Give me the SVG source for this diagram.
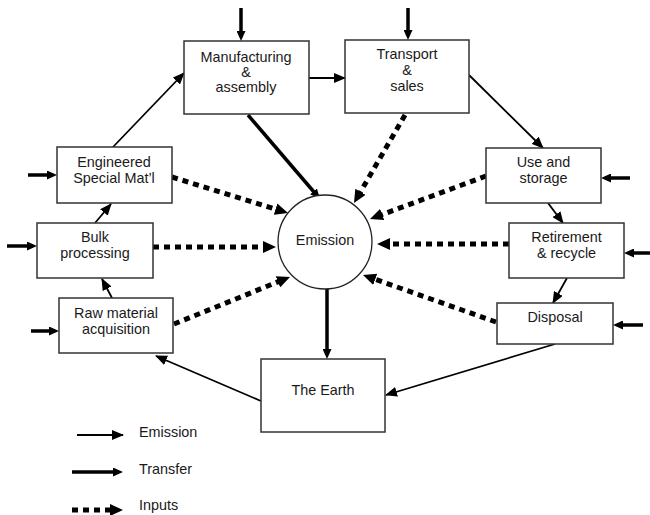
<svg xmlns="http://www.w3.org/2000/svg" width="650" height="515" viewBox="0 0 650 515">
<style>
.box{fill:#fff;stroke:#333;stroke-width:1.5}
.t{font-family:"Liberation Sans",Arial,sans-serif;font-size:14.4px;fill:#1a1a1a;text-anchor:middle}
.lt{font-family:"Liberation Sans",Arial,sans-serif;font-size:14.4px;fill:#1a1a1a}
.em{fill:none;stroke:#000;stroke-width:1.8}
.tr{fill:none;stroke:#000;stroke-width:3.5}
.in{fill:none;stroke:#000;stroke-width:5;stroke-dasharray:6 5}
</style>
<defs>
<marker id="ah" markerUnits="userSpaceOnUse" markerWidth="12" markerHeight="10" refX="11" refY="5" orient="auto"><path d="M0,0 L12,5 L0,10 z" fill="#000"/></marker>
<marker id="ahT" markerUnits="userSpaceOnUse" markerWidth="10" markerHeight="9" refX="6" refY="4.5" orient="auto"><path d="M0,0 L10,4.5 L0,9 z" fill="#000"/></marker>
<marker id="ahI" markerUnits="userSpaceOnUse" markerWidth="13" markerHeight="12" refX="6" refY="6" orient="auto"><path d="M0,0 L13,6 L0,12 z" fill="#000"/></marker>
</defs>
<rect width="650" height="515" fill="#fff"/>
<g id="connectors">
<line class="em" x1="112" y1="298" x2="102" y2="279" marker-end="url(#ah)"/>
<line class="em" x1="95" y1="223" x2="111" y2="204" marker-end="url(#ah)"/>
<line class="em" x1="113" y1="147" x2="184" y2="73" marker-end="url(#ah)"/>
<line class="em" x1="309" y1="78" x2="345" y2="78" marker-end="url(#ah)"/>
<line class="em" x1="469" y1="75" x2="543" y2="148" marker-end="url(#ah)"/>
<line class="em" x1="548" y1="203" x2="563" y2="223" marker-end="url(#ah)"/>
<line class="em" x1="567" y1="278" x2="553" y2="303" marker-end="url(#ah)"/>
<line class="em" x1="555" y1="344" x2="386" y2="395" marker-end="url(#ah)"/>
<line class="em" x1="261" y1="401" x2="156" y2="356" marker-end="url(#ah)"/>
<line class="tr" x1="248" y1="115" x2="317.4" y2="196" marker-end="url(#ahT)"/>
<line class="tr" x1="327" y1="288" x2="327" y2="355" marker-end="url(#ahT)"/>
<line class="tr" x1="241" y1="8" x2="241" y2="37" marker-end="url(#ahT)"/>
<line class="tr" x1="408" y1="8" x2="408" y2="36" marker-end="url(#ahT)"/>
<line class="tr" x1="28" y1="175" x2="53" y2="175" marker-end="url(#ahT)"/>
<line class="tr" x1="7" y1="246" x2="33" y2="246" marker-end="url(#ahT)"/>
<line class="tr" x1="31" y1="331" x2="55" y2="331" marker-end="url(#ahT)"/>
<line class="tr" x1="630" y1="178" x2="605" y2="178" marker-end="url(#ahT)"/>
<line class="tr" x1="650" y1="253" x2="628" y2="253" marker-end="url(#ahT)"/>
<line class="tr" x1="643" y1="325" x2="617" y2="325" marker-end="url(#ahT)"/>
<line class="in" x1="405" y1="115" x2="357.5" y2="197" marker-end="url(#ahI)"/>
<line class="in" x1="486" y1="176" x2="376.6" y2="216.6" marker-end="url(#ahI)"/>
<line class="in" x1="509" y1="244" x2="384" y2="244" marker-end="url(#ahI)"/>
<line class="in" x1="496" y1="322" x2="369.6" y2="277.3" marker-end="url(#ahI)"/>
<line class="in" x1="174" y1="324" x2="283.5" y2="279.6" marker-end="url(#ahI)"/>
<line class="in" x1="172" y1="177" x2="281.3" y2="210.9" marker-end="url(#ahI)"/>
<line class="in" x1="153" y1="247" x2="269" y2="247" marker-end="url(#ahI)"/>
</g>
<g id="manufacturing"><rect class="box" x="184" y="41" width="125" height="73"/><text class="t" x="246" y="62">Manufacturing</text><text class="t" x="246" y="77">&amp;</text><text class="t" x="246" y="92">assembly</text></g>
<g id="transport"><rect class="box" x="345" y="40" width="124" height="73"/><text class="t" x="407" y="59">Transport</text><text class="t" x="407" y="75">&amp;</text><text class="t" x="407" y="91">sales</text></g>
<g id="engineered"><rect class="box" x="57" y="147" width="115" height="56"/><text class="t" x="114" y="167">Engineered</text><text class="t" x="114" y="183">Special Mat’l</text></g>
<g id="bulk"><rect class="box" x="37" y="223" width="116" height="55"/><text class="t" x="95" y="242">Bulk</text><text class="t" x="95" y="258">processing</text></g>
<g id="raw"><rect class="box" x="59" y="298" width="114" height="55"/><text class="t" x="116" y="318">Raw material</text><text class="t" x="116" y="334">acquisition</text></g>
<g id="use"><rect class="box" x="486" y="148" width="115" height="55"/><text class="t" x="543.5" y="167">Use and</text><text class="t" x="543.5" y="183">storage</text></g>
<g id="retirement"><rect class="box" x="509" y="223" width="115" height="55"/><text class="t" x="566.5" y="242">Retirement</text><text class="t" x="566.5" y="258">&amp; recycle</text></g>
<g id="disposal"><rect class="box" x="497" y="303" width="116" height="41"/><text class="t" x="555" y="322">Disposal</text></g>
<g id="earth"><rect class="box" x="261" y="359" width="124" height="73"/><text class="t" x="323" y="395">The Earth</text></g>
<g id="emission"><ellipse cx="325" cy="242" rx="47" ry="47" fill="#fff" stroke="#222" stroke-width="1.3"/><text class="t" x="325" y="245">Emission</text></g>
<g id="legend">
<line class="em" x1="77" y1="435" x2="123" y2="435" marker-end="url(#ah)"/>
<text class="lt" x="139" y="437">Emission</text>
<line class="tr" x1="72" y1="472" x2="119" y2="472" marker-end="url(#ahT)"/>
<text class="lt" x="139" y="474">Transfer</text>
<line class="in" x1="72" y1="510" x2="116" y2="510" marker-end="url(#ahI)"/>
<text class="lt" x="139" y="510">Inputs</text>
</g>
</svg>
